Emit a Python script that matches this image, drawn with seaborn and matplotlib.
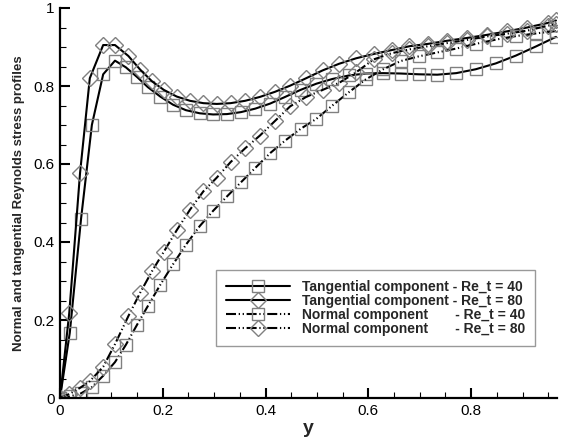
import matplotlib
matplotlib.use("Agg")
import matplotlib.pyplot as plt
import seaborn as sns
from matplotlib.ticker import MultipleLocator, FuncFormatter

sns.set_theme(style="ticks")
plt.rcParams['font.family'] = ['Liberation Sans', 'DejaVu Sans']

# Wall-normal stations (Re_t = 40 grid)
y_re40 = [0.000, 0.019, 0.041, 0.062, 0.084, 0.107, 0.128, 0.150, 0.171, 0.195,
          0.220, 0.245, 0.272, 0.298, 0.325, 0.352, 0.380, 0.409, 0.438, 0.468,
          0.499, 0.530, 0.562, 0.595, 0.629, 0.663, 0.698, 0.734, 0.771, 0.809,
          0.848, 0.887, 0.927, 0.965]
tang_re40 = [0.000, 0.167, 0.460, 0.700, 0.830, 0.865, 0.848, 0.823, 0.797, 0.773,
             0.752, 0.738, 0.730, 0.727, 0.728, 0.733, 0.742, 0.755, 0.772, 0.790,
             0.806, 0.818, 0.827, 0.832, 0.833, 0.832, 0.830, 0.829, 0.833, 0.843,
             0.858, 0.878, 0.902, 0.926]
norm_re40 = [0.000, 0.004, 0.012, 0.028, 0.057, 0.092, 0.136, 0.188, 0.236, 0.290,
             0.343, 0.393, 0.441, 0.480, 0.517, 0.553, 0.590, 0.628, 0.660, 0.690,
             0.716, 0.750, 0.784, 0.817, 0.843, 0.864, 0.876, 0.886, 0.896, 0.908,
             0.919, 0.928, 0.935, 0.941]

# Wall-normal stations (Re_t = 80 grid)
y_re80 = [0.000, 0.018, 0.039, 0.058, 0.084, 0.107, 0.133, 0.156, 0.179, 0.202,
          0.227, 0.253, 0.279, 0.305, 0.332, 0.360, 0.389, 0.418, 0.448, 0.479,
          0.511, 0.543, 0.576, 0.610, 0.645, 0.680, 0.716, 0.753, 0.791, 0.830,
          0.869, 0.909, 0.950, 0.965]
tang_re80 = [0.000, 0.218, 0.577, 0.820, 0.905, 0.905, 0.877, 0.842, 0.812, 0.790,
             0.773, 0.762, 0.756, 0.754, 0.756, 0.762, 0.772, 0.785, 0.801, 0.820,
             0.840, 0.857, 0.871, 0.882, 0.892, 0.902, 0.908, 0.916, 0.923, 0.931,
             0.940, 0.950, 0.962, 0.968]
norm_re80 = [0.000, 0.010, 0.026, 0.043, 0.080, 0.138, 0.210, 0.270, 0.325, 0.375,
             0.430, 0.483, 0.530, 0.565, 0.605, 0.640, 0.673, 0.710, 0.748, 0.772,
             0.790, 0.808, 0.835, 0.868, 0.884, 0.894, 0.902, 0.910, 0.918, 0.927,
             0.934, 0.942, 0.955, 0.960]

labels = ["Tangential component - Re_t = 40",
          "Tangential component - Re_t = 80",
          "Normal component       - Re_t = 40",
          "Normal component       - Re_t = 80"]

fig = plt.figure(figsize=(5.62, 4.41), dpi=100)
ax = fig.add_axes([60 / 562, 1 - 398 / 441, 497 / 562, 390 / 441])

dashdotdot = (0, (4.8, 1.3, 0.6, 1.3, 0.6, 1.3))
series = [
    (y_re40, tang_re40, "-", "s", 9),
    (y_re80, tang_re80, "-", "D", 8.5),
    (y_re40, norm_re40, dashdotdot, "s", 9),
    (y_re80, norm_re80, dashdotdot, "D", 8.5),
]
for (xv, yv, ls, mk, ms), lab in zip(series, labels):
    sns.lineplot(x=xv, y=yv, ax=ax, color="black", linestyle=ls, linewidth=1.5,
                 marker=mk, markersize=ms, markerfacecolor="none",
                 markeredgecolor="#808080", markeredgewidth=1.0,
                 errorbar=None, sort=False, label=lab)

ax.set_xlim(0, 0.967)
ax.set_ylim(0, 1)
ax.xaxis.set_major_locator(MultipleLocator(0.2))
ax.xaxis.set_minor_locator(MultipleLocator(0.05))
ax.yaxis.set_major_locator(MultipleLocator(0.2))
ax.yaxis.set_minor_locator(MultipleLocator(0.05))


def fmt(v, pos):
    if abs(v) < 1e-9:
        return "0"
    if abs(v - 1) < 1e-9:
        return "1"
    return f"{v:.1f}"


ax.xaxis.set_major_formatter(FuncFormatter(fmt))
ax.yaxis.set_major_formatter(FuncFormatter(fmt))

for side in ("top", "right"):
    ax.spines[side].set_visible(False)
for side in ("left", "bottom"):
    ax.spines[side].set_linewidth(1.6)
    ax.spines[side].set_color("black")

ax.tick_params(which="major", direction="in", length=7, width=1.5,
               labelsize=11, colors="black", pad=4)
ax.tick_params(which="minor", direction="in", length=4, width=0.8, colors="black")

ax.set_xlabel("y", fontsize=14, fontweight="bold", labelpad=2)
ax.set_ylabel("Normal and tangential Reynolds stress profiles", fontsize=9.5,
              fontweight="bold", labelpad=6)

leg = ax.legend(loc="upper left", bbox_to_anchor=(0.314, 0.328),
                prop={"size": 10, "weight": "bold"}, frameon=True, fancybox=False,
                handlelength=4.6, handletextpad=0.9, labelspacing=0.0,
                handleheight=0.6, borderpad=0.7, borderaxespad=0)
leg.get_frame().set_edgecolor("#808080")
leg.get_frame().set_linewidth(1.0)

fig.savefig("out.png", dpi=100)
